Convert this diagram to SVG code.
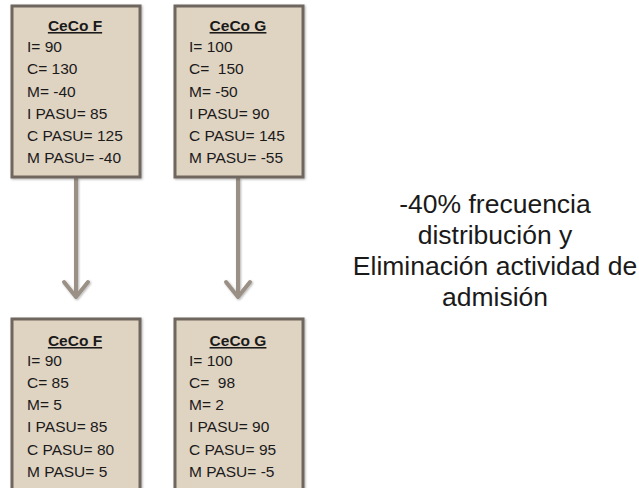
<svg xmlns="http://www.w3.org/2000/svg" width="639" height="488" viewBox="0 0 639 488">
  <defs>
    <style>
      .box { fill: #dfd3c2; stroke: #6e665e; stroke-width: 3; }
      .txt { font-family: "Liberation Sans", Arial, sans-serif; font-size: 15.5px; fill: #1a1a1a; }
      .ttl { font-weight: bold; text-decoration: underline; text-anchor: middle; }
      .note { font-family: "Liberation Sans", Arial, sans-serif; font-size: 26.5px; fill: #1a1a1a; text-anchor: middle; }
      .conn { fill: none; stroke: #9b9085; stroke-width: 4; stroke-linecap: round; stroke-linejoin: round; }
    </style>
    <filter id="shadow" x="-10%" y="-10%" width="130%" height="130%">
      <feDropShadow dx="1" dy="1" stdDeviation="1" flood-color="#000" flood-opacity="0.3"/>
    </filter>
  </defs>

  <rect width="639" height="488" fill="#ffffff"/>

  <!-- connectors -->
  <g id="connectors" filter="url(#shadow)">
    <line class="conn" x1="76" y1="179" x2="76" y2="296"/>
    <polyline class="conn" points="64,282 76,297 88,282"/>
    <line class="conn" x1="238" y1="179" x2="238" y2="296"/>
    <polyline class="conn" points="226,282 238,297 250,282"/>
  </g>

  <!-- top left -->
  <g id="ceco-f-before">
    <rect class="box" x="12" y="6" width="128" height="171" filter="url(#shadow)"/>
    <text class="txt ttl" x="75" y="31">CeCo F</text>
    <text class="txt" x="27" y="52">I= 90</text>
    <text class="txt" x="27" y="74">C= 130</text>
    <text class="txt" x="27" y="97">M= -40</text>
    <text class="txt" x="27" y="119">I PASU= 85</text>
    <text class="txt" x="27" y="141">C PASU= 125</text>
    <text class="txt" x="27" y="163">M PASU= -40</text>
  </g>

  <!-- top right -->
  <g id="ceco-g-before">
    <rect class="box" x="175" y="6" width="128" height="171" filter="url(#shadow)"/>
    <text class="txt ttl" x="238" y="31">CeCo G</text>
    <text class="txt" x="189" y="52">I= 100</text>
    <text class="txt" x="189" y="74" xml:space="preserve">C=  150</text>
    <text class="txt" x="189" y="97">M= -50</text>
    <text class="txt" x="189" y="119">I PASU= 90</text>
    <text class="txt" x="189" y="141">C PASU= 145</text>
    <text class="txt" x="189" y="163">M PASU= -55</text>
  </g>

  <!-- bottom left -->
  <g id="ceco-f-after">
    <rect class="box" x="12" y="319" width="128" height="180" filter="url(#shadow)"/>
    <text class="txt ttl" x="75" y="346">CeCo F</text>
    <text class="txt" x="27" y="366">I= 90</text>
    <text class="txt" x="27" y="388">C= 85</text>
    <text class="txt" x="27" y="410">M= 5</text>
    <text class="txt" x="27" y="432">I PASU= 85</text>
    <text class="txt" x="27" y="455">C PASU= 80</text>
    <text class="txt" x="27" y="477">M PASU= 5</text>
  </g>

  <!-- bottom right -->
  <g id="ceco-g-after">
    <rect class="box" x="175" y="319" width="128" height="180" filter="url(#shadow)"/>
    <text class="txt ttl" x="238" y="346">CeCo G</text>
    <text class="txt" x="189" y="366">I= 100</text>
    <text class="txt" x="189" y="388" xml:space="preserve">C=  98</text>
    <text class="txt" x="189" y="410">M= 2</text>
    <text class="txt" x="189" y="432">I PASU= 90</text>
    <text class="txt" x="189" y="455">C PASU= 95</text>
    <text class="txt" x="189" y="477">M PASU= -5</text>
  </g>

  <!-- side note -->
  <g id="note">
    <text class="note" x="495" y="213">-40% frecuencia</text>
    <text class="note" x="495" y="244">distribución y</text>
    <text class="note" x="495" y="275">Eliminación actividad de</text>
    <text class="note" x="495" y="306">admisión</text>
  </g>
</svg>
